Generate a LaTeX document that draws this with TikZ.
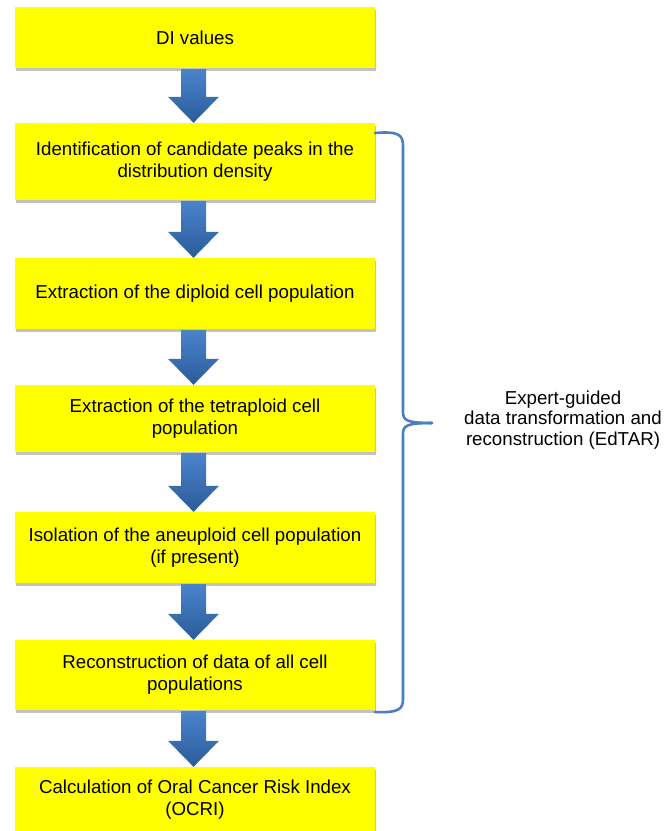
\documentclass[tikz,border=0pt]{standalone}
\usepackage{fontspec}
\setmainfont{Liberation Sans}
\usetikzlibrary{calc,shadows}
\definecolor{boxyellow}{HTML}{FFFF00}
\definecolor{arrtop}{HTML}{4A84CC}
\definecolor{arrbot}{HTML}{2B5B99}
\definecolor{bracecol}{HTML}{4A7EBF}
\tikzset{
  flowbox/.style={fill=boxyellow, minimum width=360pt, inner sep=0pt, align=center,
    font=\fontsize{18.7}{22}\selectfont,
    drop shadow={shadow xshift=1pt, shadow yshift=-2.5pt, fill=black!40, opacity=0.6}},
  bracepath/.style={draw=bracecol, line width=2.6pt, line cap=round, line join=round},
  sidetext/.style={align=center, font=\fontsize{18.7}{20.5}\selectfont}
}
\newcommand\blockarrow[2]{%
  \shade[top color=arrtop, bottom color=arrbot]
    let \p1=(#1.south), \p2=(#2.north) in
    (\x1-14pt,\y1-1pt) -- (\x1+11pt,\y1-1pt) -- (\x1+11pt,\y2+26pt) -- (\x1+24pt,\y2+26pt)
    -- (\x1-1.5pt,\y2) -- (\x1-27pt,\y2+26pt) -- (\x1-14pt,\y2+26pt) -- cycle;}
\begin{document}
\begin{tikzpicture}[x=1pt,y=-1pt]
\useasboundingbox (0,0) rectangle (665,831);
\node[flowbox, minimum height=61pt] (b1) at (195,37.5) {DI values};
\node[flowbox, minimum height=77pt] (b2) at (195,161.5) {Identification of candidate peaks in the\\distribution density};
\node[flowbox, minimum height=71pt] (b3) at (195,293.5) {Extraction of the diploid cell population};
\node[flowbox, minimum height=67pt] (b4) at (195,418.5) {Extraction of the tetraploid cell\\population};
\node[flowbox, minimum height=71pt] (b5) at (195,547.5) {Isolation of the aneuploid cell population\\(if present)};
\node[flowbox, minimum height=70pt] (b6) at (195,675) {Reconstruction of data of all cell\\populations};
\node[flowbox, minimum height=66pt] (b7) at (195,800) {Calculation of Oral Cancer Risk Index\\(OCRI)};
\blockarrow{b1}{b2}
\blockarrow{b2}{b3}
\blockarrow{b3}{b4}
\blockarrow{b4}{b5}
\blockarrow{b5}{b6}
\blockarrow{b6}{b7}
\coordinate (btop) at (375,133);
\coordinate (btip) at (432,423);
\coordinate (bbot) at (375,712);
\draw[bracepath] (btop) .. controls (399,131) and (403,135) .. (403,146) -- (403,412)
  .. controls (403,420) and (406,423) .. (btip);
\draw[bracepath] (btip) .. controls (406,423) and (403,426) .. (403,434) -- (403,699)
  .. controls (403,709) and (399,713) .. (bbot);
\node[sidetext] (lbl) at (563,420) {Expert-guided\\data transformation and\\reconstruction (EdTAR)};
\end{tikzpicture}
\end{document}
